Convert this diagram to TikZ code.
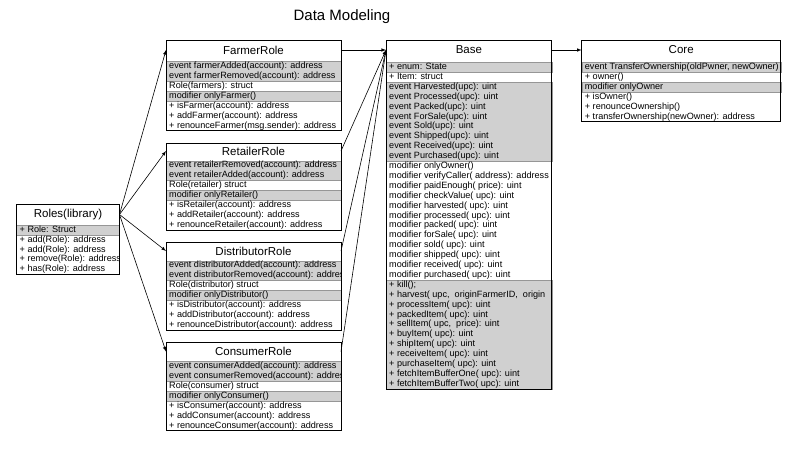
\documentclass[tikz,border=0pt]{standalone}
\usepackage{fontspec}
\setmainfont{Liberation Sans}
\definecolor{rowgray}{RGB}{208,208,208}
\definecolor{rowline}{RGB}{150,150,150}
\tikzstyle{clsbox}=[draw, line width=0.8pt, inner sep=0, outer sep=0, anchor=north west]
\tikzstyle{clsname}=[inner sep=0, font=\fontsize{11.5}{13}\selectfont]
\tikzstyle{members}=[inner sep=0, anchor=north west, align=left, font=\fontsize{9.1}{9.9}\selectfont, execute at begin node={\rule{0pt}{7.2pt}}]
\tikzstyle{band}=[fill=rowgray, draw=rowline, line width=0.4pt]
\tikzstyle{link}=[-latex, line width=0.6pt]

\begin{document}
\begin{tikzpicture}[x=1pt, y=-1pt]
  \useasboundingbox (0,0) rectangle (801,450);
  \draw (342,17) node[font=\fontsize{15}{18}\selectfont] (heading) {Data Modeling};

  %% Roles library
  \fill[band] (16.5,225) rectangle (119.5,234.9);
  \begin{scope}
    \clip (16.5,204.5) rectangle (119.5,274.5);
    \draw (19.5,225.5) node[members] (rolesrows) {+ Role: Struct\\+ add(Role): address\\+ add(Role): address\\+ remove(Role): address\\+ has(Role): address};
  \end{scope}
  \draw (16.5,204.5) node[clsbox, minimum width=103pt, minimum height=70pt] (roles) {};
  \draw (68,214.5) node[clsname] (rolestitle) {Roles(library)};

  %% FarmerRole
  \fill[band] (166,61.5) rectangle (341,81.3);
  \fill[band] (166,91.2) rectangle (341,101.1);
  \begin{scope}
    \clip (166,40.5) rectangle (341,130.8);
    \draw (169,62) node[members] (farmerrows) {event farmerAdded(account): address\\event farmerRemoved(account): address\\Role(farmers): struct\\modifier onlyFarmer()\\+ isFarmer(account): address\\+ addFarmer(account): address\\+ renounceFarmer(msg.sender): address};
  \end{scope}
  \draw (166,40.5) node[clsbox, minimum width=175pt, minimum height=90.3pt] (farmer) {};
  \draw (253.5,50) node[clsname] (farmertitle) {FarmerRole};

  %% RetailerRole
  \fill[band] (166,160.7) rectangle (341,180.5);
  \fill[band] (166,190.4) rectangle (341,200.3);
  \begin{scope}
    \clip (166,143.3) rectangle (341,230);
    \draw (169,161.2) node[members] (retailerrows) {event retailerRemoved(account): address\\event retailerAdded(account): address\\Role(retailer) struct\\modifier onlyRetailer()\\+ isRetailer(account): address\\+ addRetailer(account): address\\+ renounceRetailer(account): address};
  \end{scope}
  \draw (166,143.3) node[clsbox, minimum width=175pt, minimum height=86.7pt] (retailer) {};
  \draw (253.5,151) node[clsname] (retailertitle) {RetailerRole};

  %% DistributorRole
  \fill[band] (166,260.7) rectangle (341,280.5);
  \fill[band] (166,290.4) rectangle (341,300.3);
  \begin{scope}
    \clip (166,242.3) rectangle (341,330);
    \draw (169,261.2) node[members] (distributorrows) {event distributorAdded(account): address\\event distributorRemoved(account): address\\Role(distributor) struct\\modifier onlyDistributor()\\+ isDistributor(account): address\\+ addDistributor(account): address\\+ renounceDistributor(account): address};
  \end{scope}
  \draw (166,242.3) node[clsbox, minimum width=175pt, minimum height=87.7pt] (distributor) {};
  \draw (253.5,251) node[clsname] (distributortitle) {DistributorRole};

  %% ConsumerRole
  \fill[band] (166,361.5) rectangle (341,381.3);
  \fill[band] (166,391.2) rectangle (341,401.1);
  \begin{scope}
    \clip (166,342.3) rectangle (341,430.8);
    \draw (169,362) node[members] (consumerrows) {event consumerAdded(account): address\\event consumerRemoved(account): address\\Role(consumer) struct\\modifier onlyConsumer()\\+ isConsumer(account): address\\+ addConsumer(account): address\\+ renounceConsumer(account): address};
  \end{scope}
  \draw (166,342.3) node[clsbox, minimum width=175pt, minimum height=88.5pt] (consumer) {};
  \draw (253.5,351.5) node[clsname] (consumertitle) {ConsumerRole};

  %% Base
  \fill[band] (386,62.5) rectangle (551.7,72.4);
  \fill[band] (386,82.3) rectangle (551.7,161.5);
  \fill[band] (386,280.3) rectangle (551.7,389.2);
  \begin{scope}
    \clip (386,40.3) rectangle (551.7,389.2);
    \draw (389,63) node[members] (baserows) {+ enum: State\\+ Item: struct\\event Harvested(upc): uint\\event Processed(upc): uint\\event Packed(upc): uint\\event ForSale(upc): uint\\event Sold(upc): uint\\event Shipped(upc): uint\\event Received(upc): uint\\event Purchased(upc): uint\\modifier onlyOwner()\\modifier verifyCaller( address): address\\modifier paidEnough( price): uint\\modifier checkValue( upc): uint\\modifier harvested( upc): uint\\modifier processed( upc): uint\\modifier packed( upc): uint\\modifier forSale( upc): uint\\modifier sold( upc): uint\\modifier shipped( upc): uint\\modifier received( upc): uint\\modifier purchased( upc): uint\\+ kill();\\+ harvest( upc,\ \ originFarmerID,\ \ origin\\+ processItem( upc): uint\\+ packedItem( upc): uint\\+ sellItem( upc,\ \ price): uint\\+ buyItem( upc): uint\\+ shipItem( upc): uint\\+ receiveItem( upc): uint\\+ purchaseItem( upc): uint\\+ fetchItemBufferOne( upc): uint\\+ fetchItemBufferTwo( upc): uint};
  \end{scope}
  \draw (386,40.3) node[clsbox, minimum width=165.7pt, minimum height=348.9pt] (base) {};
  \draw (468.9,50) node[clsname] (basetitle) {Base};

  %% Core
  \fill[band] (581.7,62.3) rectangle (780.7,72.2);
  \fill[band] (581.7,82.1) rectangle (780.7,92);
  \begin{scope}
    \clip (581.7,40) rectangle (780.7,121.7);
    \draw (584.7,62.8) node[members] (corerows) {event TransferOwnership(oldPwner, newOwner)\\+ owner()\\modifier onlyOwner\\+ isOwner()\\+ renounceOwnership()\\+ transferOwnership(newOwner): address};
  \end{scope}
  \draw (581.7,40) node[clsbox, minimum width=199pt, minimum height=81.7pt] (core) {};
  \draw (681.2,50) node[clsname] (coretitle) {Core};

  %% Links
  \draw[link] (roles.east |- rolestitle) -- (farmer.west |- farmertitle);
  \draw[link] (roles.east |- rolestitle) -- (retailer.west |- retailertitle);
  \draw[link] (roles.east |- rolestitle) -- (distributor.west |- distributortitle);
  \draw[link] (roles.east |- rolestitle) -- (consumer.west |- consumertitle);

  \draw[link] (farmer.east |- farmertitle) -- (base.west |- basetitle);
  \draw[link] (retailer.east |- retailertitle) -- (base.west |- basetitle);
  \draw[link] (distributor.east |- distributortitle) -- (base.west |- basetitle);
  \draw[link] (consumer.east |- consumertitle) -- (base.west |- basetitle);

  \draw[link] (base.east |- basetitle) -- (core.west |- coretitle);
\end{tikzpicture}
\end{document}
